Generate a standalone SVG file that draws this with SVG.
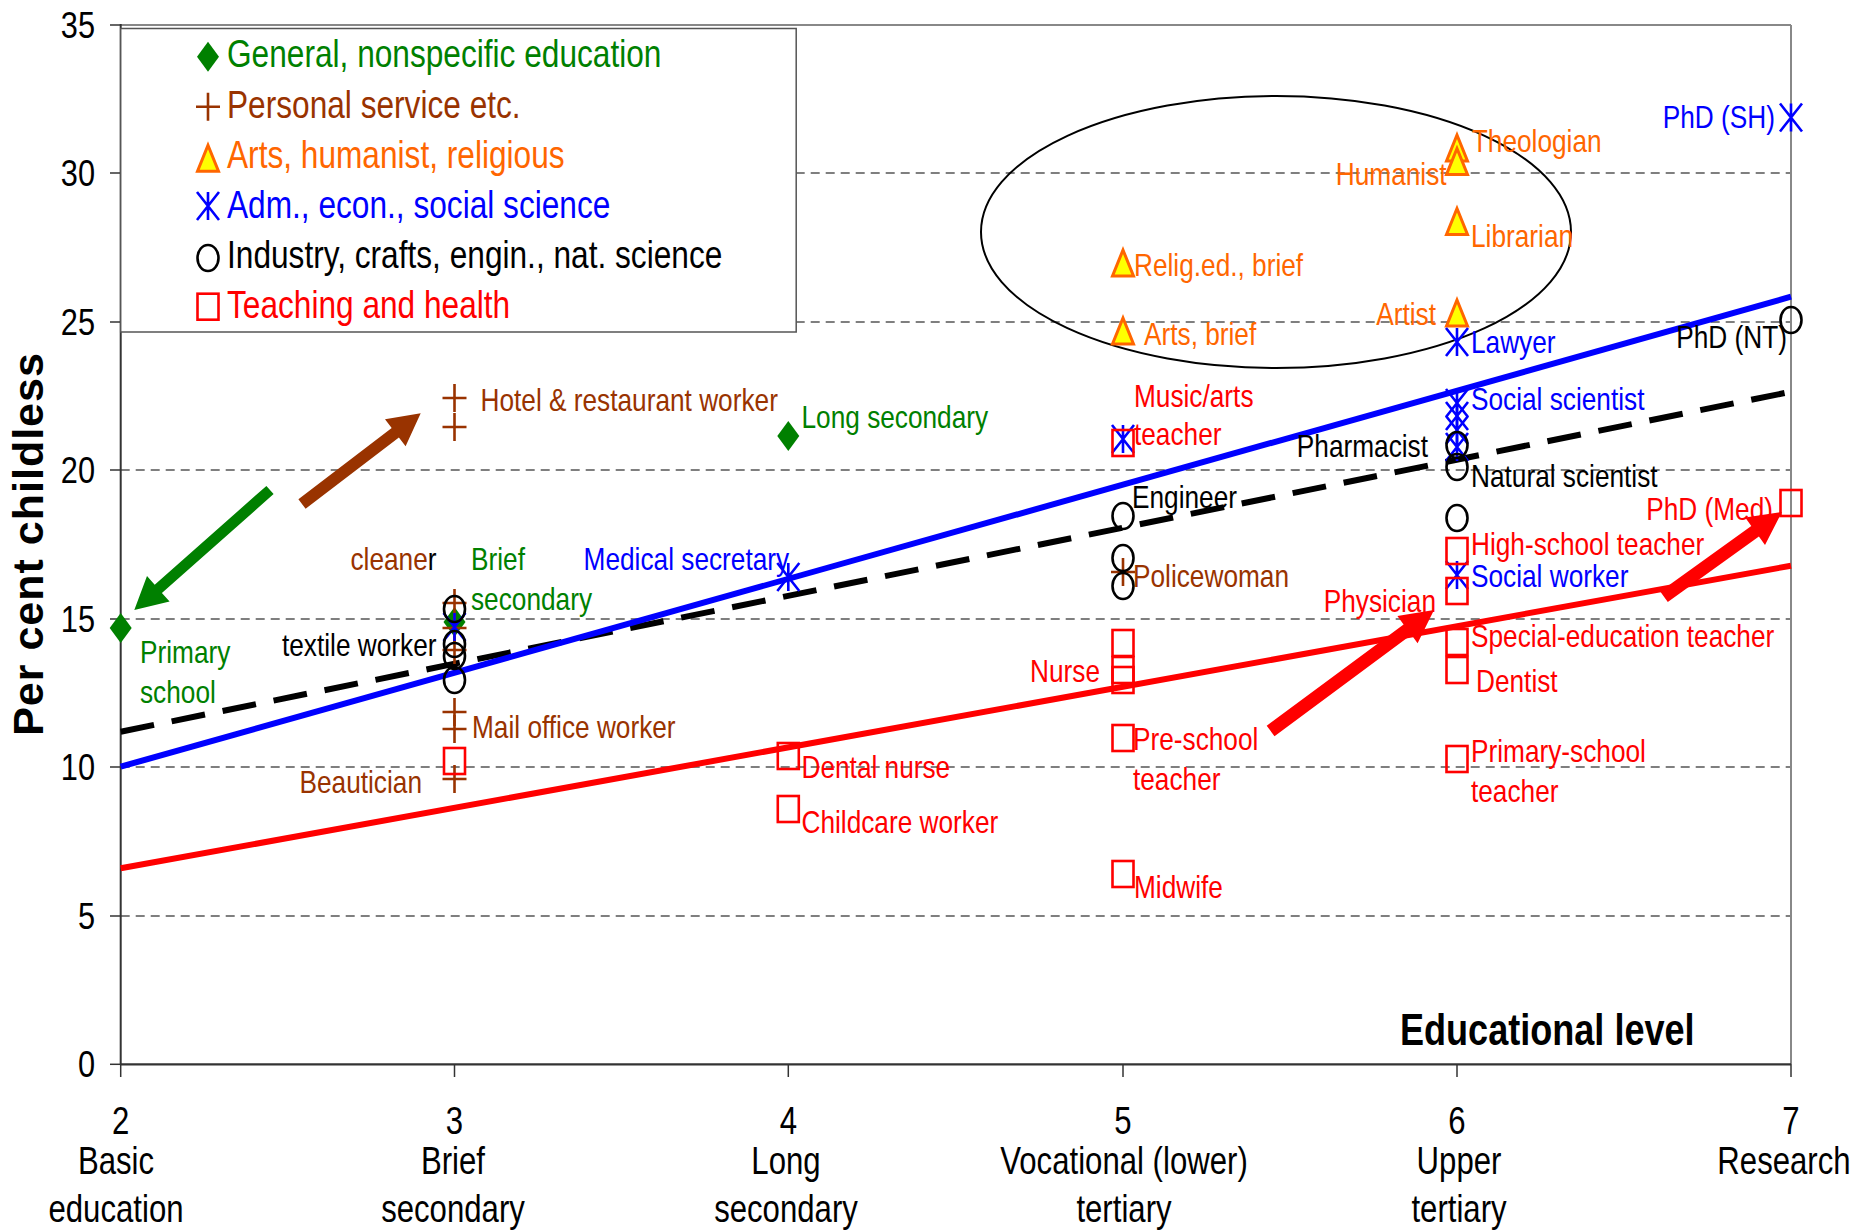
<svg xmlns="http://www.w3.org/2000/svg" width="1856" height="1231" viewBox="0 0 1856 1231">
<style>
text{font-family:"Liberation Sans Narrow","Arial Narrow","Liberation Sans",sans-serif}
.ax{font-size:37.5px;fill:#000}
.xl{font-size:38px}
.lg{font-size:38.6px}
.lb{font-size:32px}
.g{fill:#008000}.b{fill:#993300}.o{fill:#FF6600}.u{fill:#0000FF}.k{fill:#000}.r{fill:#FF0000}
.grid{stroke:#555;stroke-width:1.3;stroke-dasharray:9 6}
.tick{stroke:#333;stroke-width:1.5}
</style>
<defs>
<polygon id="dia" points="0,-15 11,0 0,15 -11,0" fill="#008000"/>
<path id="plus" d="M-12,0H12M0,-14V14" stroke="#993300" stroke-width="2.6" fill="none"/>
<polygon id="tri" points="0,-13 10.5,13 -10.5,13" fill="#FFFF00" stroke="#FF6600" stroke-width="3"/>
<path id="ast" d="M-11,-14L11,14M11,-14L-11,14M0,-14V14" stroke="#0000FF" stroke-width="2.6" fill="none"/>
<ellipse id="cir" rx="10.5" ry="13" stroke="#000" stroke-width="2.6" fill="none"/>
<rect id="sq" x="-10.5" y="-13" width="21" height="26" stroke="#FF0000" stroke-width="2.6" fill="none"/>
</defs>
<rect width="1856" height="1231" fill="#fff"/>
<g id="axes">
<g id="gridlines">
<line class="grid" x1="120.7" y1="916" x2="1791" y2="916"/>
<line class="grid" x1="120.7" y1="767" x2="1791" y2="767"/>
<line class="grid" x1="120.7" y1="619" x2="1791" y2="619"/>
<line class="grid" x1="120.7" y1="470" x2="1791" y2="470"/>
<line class="grid" x1="120.7" y1="322" x2="1791" y2="322"/>
<line class="grid" x1="120.7" y1="173" x2="1791" y2="173"/>
</g>
<line x1="120.7" y1="25" x2="1791" y2="25" stroke="#888" stroke-width="2"/>
<line x1="1791" y1="25" x2="1791" y2="1064" stroke="#888" stroke-width="2"/>
<line x1="120.7" y1="24" x2="120.7" y2="1065" stroke="#333" stroke-width="2"/>
<line x1="120.7" y1="1064.3" x2="1791" y2="1064.3" stroke="#333" stroke-width="2.2"/>
<g id="yticks">
<line class="tick" x1="110" y1="1064.3" x2="120.7" y2="1064.3"/>
<line class="tick" x1="110" y1="916" x2="120.7" y2="916"/>
<line class="tick" x1="110" y1="767" x2="120.7" y2="767"/>
<line class="tick" x1="110" y1="619" x2="120.7" y2="619"/>
<line class="tick" x1="110" y1="470" x2="120.7" y2="470"/>
<line class="tick" x1="110" y1="322" x2="120.7" y2="322"/>
<line class="tick" x1="110" y1="173" x2="120.7" y2="173"/>
<line class="tick" x1="110" y1="25" x2="120.7" y2="25"/>
</g>
<g id="xticks">
<line class="tick" x1="120.7" y1="1064" x2="120.7" y2="1077"/>
<line class="tick" x1="454.5" y1="1064" x2="454.5" y2="1077"/>
<line class="tick" x1="788.3" y1="1064" x2="788.3" y2="1077"/>
<line class="tick" x1="1123" y1="1064" x2="1123" y2="1077"/>
<line class="tick" x1="1457" y1="1064" x2="1457" y2="1077"/>
<line class="tick" x1="1791" y1="1064" x2="1791" y2="1077"/>
</g>
<g id="ylabels" class="ax" text-anchor="end" transform="scale(0.82,1)">
<text x="115.85" y="1077">0</text>
<text x="115.85" y="929">5</text>
<text x="115.85" y="780">10</text>
<text x="115.85" y="632">15</text>
<text x="115.85" y="483">20</text>
<text x="115.85" y="335">25</text>
<text x="115.85" y="186">30</text>
<text x="115.85" y="38">35</text>
</g>
<g id="xlabels" class="ax xl" text-anchor="middle" transform="scale(0.82,1)">
<text x="147.2" y="1134">2</text>
<text x="141.46" y="1174">Basic</text>
<text x="141.46" y="1222">education</text>
<text x="554.27" y="1134">3</text>
<text x="552.44" y="1174">Brief</text>
<text x="552.44" y="1222">secondary</text>
<text x="961.34" y="1134">4</text>
<text x="958.54" y="1174">Long</text>
<text x="958.54" y="1222">secondary</text>
<text x="1369.51" y="1134">5</text>
<text x="1370.73" y="1174">Vocational (lower)</text>
<text x="1370.73" y="1222">tertiary</text>
<text x="1776.83" y="1134">6</text>
<text x="1779.27" y="1174">Upper</text>
<text x="1779.27" y="1222">tertiary</text>
<text x="2184.15" y="1134">7</text>
<text x="2175.61" y="1174">Research</text>
</g>
<text transform="translate(43,544) rotate(-90)" text-anchor="middle" style="font-family:'Liberation Sans',sans-serif;font-weight:bold;font-size:43px;letter-spacing:1px">Per cent childless</text>
<text transform="scale(0.82,1)" x="1707.3" y="1045" style="font-weight:bold;font-size:44px">Educational level</text>
</g>
<ellipse id="ellipse" cx="1276" cy="232" rx="295" ry="136" fill="none" stroke="#000" stroke-width="2"/>
<g id="connectors">
<line x1="120.7" y1="731.7" x2="1791" y2="391.7" stroke="#000" stroke-width="6" stroke-dasharray="34 18"/>
<line x1="120.7" y1="766.7" x2="1791" y2="296.7" stroke="#0000FF" stroke-width="6"/>
<line x1="120.7" y1="868.3" x2="1791" y2="565.7" stroke="#FF0000" stroke-width="6"/>
</g>
<g id="legend">
<rect x="120.7" y="28.5" width="675.5" height="303.5" fill="#fff" stroke="#555" stroke-width="1.5"/>
<use href="#dia" x="208" y="56.7"/>
<use href="#plus" x="208" y="106.7"/>
<use href="#tri" x="208" y="158.3"/>
<use href="#ast" x="208" y="206"/>
<use href="#cir" x="208" y="258"/>
<use href="#sq" x="208" y="306.7"/>
<g transform="scale(0.82,1)">
<text class="lg g" x="276.83" y="67">General, nonspecific education</text>
<text class="lg b" x="276.83" y="118">Personal service etc.</text>
<text class="lg o" x="276.83" y="168">Arts, humanist, religious</text>
<text class="lg u" x="276.83" y="218">Adm., econ., social science</text>
<text class="lg k" x="276.83" y="268">Industry, crafts, engin., nat. science</text>
<text class="lg r" x="276.83" y="318">Teaching and health</text>
</g>
</g>
<g id="general">
<use href="#dia" x="120.7" y="628"/>
<use href="#dia" x="454.5" y="622"/>
<use href="#dia" x="788.3" y="436"/>
</g>
<g id="personal">
<use href="#plus" x="454.5" y="398"/>
<use href="#plus" x="454.5" y="427"/>
<use href="#plus" x="454.5" y="603"/>
<use href="#plus" x="454.5" y="628"/>
<use href="#plus" x="454.5" y="650"/>
<use href="#plus" x="454.5" y="712"/>
<use href="#plus" x="454.5" y="729"/>
<use href="#plus" x="454.5" y="779"/>
<use href="#plus" x="1123" y="572"/>
</g>
<g id="arts">
<use href="#tri" x="1123" y="263"/>
<use href="#tri" x="1123" y="331"/>
<use href="#tri" x="1457" y="148"/>
<use href="#tri" x="1457" y="161.5"/>
<use href="#tri" x="1457" y="221.5"/>
<use href="#tri" x="1457" y="313"/>
</g>
<g id="adm">
<use href="#ast" x="454.5" y="627"/>
<use href="#ast" x="788.3" y="577"/>
<use href="#ast" x="1123" y="439"/>
<use href="#ast" x="1457" y="342"/>
<use href="#ast" x="1457" y="403"/>
<use href="#ast" x="1457" y="416"/>
<use href="#ast" x="1457" y="430"/>
<use href="#ast" x="1457" y="447"/>
<use href="#ast" x="1457" y="575"/>
<use href="#ast" x="1791" y="117.5"/>
</g>
<g id="industry">
<use href="#cir" x="454.5" y="609"/>
<use href="#cir" x="454.5" y="644"/>
<use href="#cir" x="454.5" y="656"/>
<use href="#cir" x="454.5" y="680"/>
<use href="#cir" x="1123" y="516"/>
<use href="#cir" x="1123" y="558"/>
<use href="#cir" x="1123" y="586"/>
<use href="#cir" x="1457" y="445"/>
<use href="#cir" x="1457" y="467"/>
<use href="#cir" x="1457" y="518"/>
<use href="#cir" x="1791" y="320"/>
</g>
<g id="teaching">
<use href="#sq" x="454.5" y="761"/>
<use href="#sq" x="788.3" y="756"/>
<use href="#sq" x="788.3" y="809"/>
<use href="#sq" x="1123" y="443"/>
<use href="#sq" x="1123" y="643"/>
<use href="#sq" x="1123" y="670"/>
<use href="#sq" x="1123" y="680"/>
<use href="#sq" x="1123" y="738"/>
<use href="#sq" x="1123" y="874"/>
<use href="#sq" x="1457" y="551"/>
<use href="#sq" x="1457" y="591"/>
<use href="#sq" x="1457" y="642"/>
<use href="#sq" x="1457" y="670"/>
<use href="#sq" x="1457" y="759"/>
<use href="#sq" x="1791" y="503"/>
</g>
<g id="labels" class="lb" transform="scale(0.82,1)">
<text class="g" x="170.73" y="663">Primary</text>
<text class="g" x="170.73" y="703">school</text>
<text class="b" x="585.98" y="411">Hotel &amp; restaurant worker</text>
<text class="g" x="977.44" y="428">Long secondary</text>
<text class="b" x="532.32" y="570" text-anchor="end">cleane<tspan class="k">r</tspan></text>
<text class="g" x="574.39" y="570">Brief</text>
<text class="g" x="574.39" y="610">secondary</text>
<text class="u" x="711.71" y="570">Medical secretary</text>
<text class="k" x="532.32" y="656" text-anchor="end">textile worker</text>
<text class="b" x="575.61" y="738">Mail office worker</text>
<text class="b" x="514.63" y="793" text-anchor="end">Beautician</text>
<text class="r" x="977.44" y="778">Dental nurse</text>
<text class="r" x="977.44" y="833">Childcare worker</text>
<text class="r" x="1382.93" y="407">Music/arts</text>
<text class="r" x="1382.93" y="445">teacher</text>
<text class="k" x="1380.49" y="508">Engineer</text>
<text class="b" x="1381.71" y="587">Policewoman</text>
<text class="r" x="1341.46" y="682" text-anchor="end">Nurse</text>
<text class="r" x="1381.71" y="750">Pre-school</text>
<text class="r" x="1381.71" y="790">teacher</text>
<text class="r" x="1382.93" y="898">Midwife</text>
<text class="o" x="1382.93" y="276">Relig.ed., brief</text>
<text class="o" x="1395.12" y="345">Arts, brief</text>
<text class="o" x="1794.88" y="152">Theologian</text>
<text class="o" x="1764.15" y="185" text-anchor="end">Humanist</text>
<text class="o" x="1793.9" y="247">Librarian</text>
<text class="o" x="1751.22" y="325" text-anchor="end">Artist</text>
<text class="u" x="1793.9" y="353">Lawyer</text>
<text class="u" x="1793.9" y="410">Social scientist</text>
<text class="k" x="1741.46" y="457" text-anchor="end">Pharmacist</text>
<text class="k" x="1793.9" y="487">Natural scientist</text>
<text class="r" x="1793.9" y="555">High-school teacher</text>
<text class="u" x="1793.9" y="587">Social worker</text>
<text class="r" x="1751.22" y="612" text-anchor="end">Physician</text>
<text class="r" x="1793.9" y="647">Special-education teacher</text>
<text class="r" x="1800" y="692">Dentist</text>
<text class="r" x="1793.9" y="762">Primary-school</text>
<text class="r" x="1793.9" y="802">teacher</text>
<text class="u" x="2164.63" y="128" text-anchor="end">PhD (SH)</text>
<text class="k" x="2179.27" y="348" text-anchor="end">PhD (NT)</text>
<text class="r" x="2162.2" y="520" text-anchor="end">PhD (Med)</text>
</g>
<g id="arrows">
<polygon fill="#008000" points="266.4,485.9 154.7,584.7 147.0,576.1 134.3,610 169.6,601.5 161.9,592.9 273.6,494.1"/>
<polygon fill="#993300" points="298.4,499.2 391.7,427.9 385.0,419.2 420.7,413.3 405.6,446.2 398.9,437.5 305.6,508.8"/>
<polygon fill="#FF0000" points="1266.7,725.8 1403.6,624.4 1397.4,615.9 1434,610 1417.6,643.3 1411.4,634.8 1274.5,736.2"/>
<polygon fill="#FF0000" points="1660.2,591.4 1751.3,526.0 1745.2,517.4 1781.9,512 1765.0,545.1 1758.9,536.5 1667.8,602.0"/>
</g>
</svg>
